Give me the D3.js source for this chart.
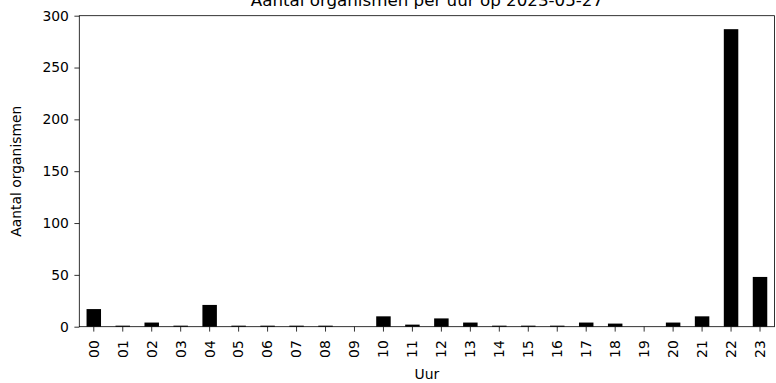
<!DOCTYPE html>
<html>
<head>
<meta charset="utf-8">
<script src="https://cdn.jsdelivr.net/npm/d3@7"></script>
<style>
  html, body { margin: 0; padding: 0; background: #fff; }
  svg { display: block; }
  text { font-family: "DejaVu Sans", sans-serif; fill: #000; }
</style>
</head>
<body>
<svg id="chart" width="776" height="383"></svg>
<script>
const hours = ["00","01","02","03","04","05","06","07","08","09","10","11",
               "12","13","14","15","16","17","18","19","20","21","22","23"];
const counts = [17,1,4,1,21,1,1,1,1,0,10,2,8,4,1,1,1,4,3,0,4,10,287,48];
const yTicks = [0,50,100,150,200,250,300];
const titleText = "Aantal organismen per uur op 2023-05-27";
const xLabel = "Uur";
const yLabel = "Aantal organismen";

const svg = d3.select("#chart");
const m = {left: 79.3, right: 774.5, top: 15.7, bottom: 326.7};

const x = d3.scaleBand().domain(hours).range([m.left, m.right]).paddingInner(0.5).paddingOuter(0.25);
const y = d3.scaleLinear().domain([0, 300]).range([m.bottom, m.top]);

// bars
svg.append("g").selectAll("rect").data(hours).join("rect")
  .attr("x", (d) => x(d))
  .attr("width", x.bandwidth())
  .attr("y", (d, i) => y(counts[i]))
  .attr("height", (d, i) => y(0) - y(counts[i]))
  .attr("fill", "#000");

// frame
svg.append("rect")
  .attr("x", m.left).attr("y", m.top)
  .attr("width", m.right - m.left).attr("height", m.bottom - m.top)
  .attr("fill", "none").attr("stroke", "#000").attr("stroke-width", 0.8);

// y axis
const yAxis = d3.axisLeft(y).tickValues(yTicks).tickSize(4.9).tickPadding(5.5).tickFormat(d3.format("d"));
const gy = svg.append("g").attr("transform", `translate(${m.left},0)`).call(yAxis);
gy.select(".domain").remove();
gy.selectAll(".tick line").attr("stroke", "#000").attr("stroke-width", 0.8);
gy.selectAll(".tick text").attr("font-size", "13.9px").attr("font-family", "DejaVu Sans").attr("fill", "#000");

// x axis
const xAxis = d3.axisBottom(x).tickSize(4.9).tickSizeOuter(0);
const gx = svg.append("g").attr("transform", `translate(0,${m.bottom})`).call(xAxis);
gx.select(".domain").remove();
gx.selectAll(".tick line").attr("stroke", "#000").attr("stroke-width", 0.8);
gx.selectAll(".tick text")
  .attr("font-size", "13.9px").attr("font-family", "DejaVu Sans").attr("fill", "#000")
  .attr("transform", "rotate(-90)")
  .attr("x", -13.5).attr("y", 0).attr("dy", "0.35em")
  .attr("text-anchor", "end");

// labels
svg.append("text").attr("x", (m.left + m.right) / 2).attr("y", 378.5)
  .attr("text-anchor", "middle").attr("font-size", "13.9px").text(xLabel);

svg.append("text").attr("transform", `translate(21,${(m.top + m.bottom) / 2}) rotate(-90)`)
  .attr("text-anchor", "middle").attr("font-size", "13.9px").text(yLabel);

svg.append("text").attr("x", (m.left + m.right) / 2).attr("y", 6)
  .attr("text-anchor", "middle").attr("font-size", "16.7px").text(titleText);
</script>
</body>
</html>
